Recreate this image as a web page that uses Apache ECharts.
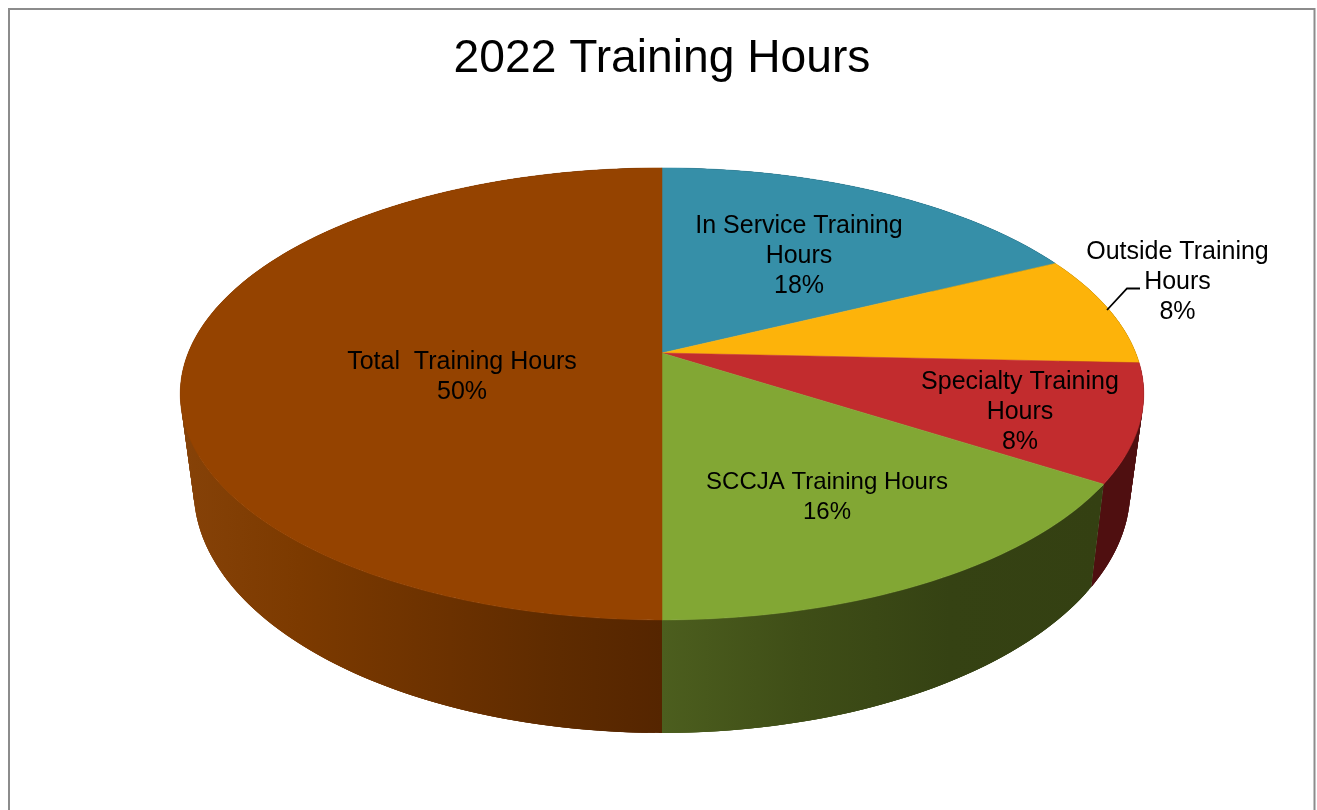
<!DOCTYPE html>
<html>
<head>
<meta charset="utf-8">
<style>html,body{margin:0;padding:0;background:#fff}#c{width:1317px;height:810px}</style>
<script src="https://cdn.jsdelivr.net/npm/echarts@6/dist/echarts.min.js"></script>
</head>
<body>
<div id="c"></div>
<script>
const titleText = '2022 Training Hours';
const categories = ['In Service Training Hours', 'Outside Training Hours', 'Specialty Training Hours', 'SCCJA Training Hours', 'Total  Training Hours'];
const shares = [17.7, 8.0, 8.4, 15.9, 50];

// Presentation only, kept apart from the data
const labelLines = [['In Service Training', 'Hours'], ['Outside Training', 'Hours'], ['Specialty Training', 'Hours'], ['SCCJA Training Hours'], ['Total  Training Hours']];
const labelAt = [[799, 256], [1177.5, 282], [1020, 412], [827, 497], [462, 377]];
const labelSize = [25, 25, 25, 24, 25];
const topColors = ['#368fa8', '#fdb30a', '#c22c2e', '#82a734', '#954300'];
const sideStops = [
  [[0, '#1d4c5a'], [2000, '#1d4c5a']],
  [[0, '#7f5f05'], [2000, '#7f5f05']],
  [[0, '#4f0f10'], [2000, '#4f0f10']],
  [[662, '#4c5e1e'], [800, '#3f4e17'], [950, '#354213'], [1100, '#344012']],
  [[180, '#864208'], [300, '#7c3a00'], [450, '#6b3100'], [560, '#5e2b00'], [662, '#552500']]
];
const FONT = '"Liberation Sans", Arial, sans-serif';

// Projection of the round pie onto the page
const CX = 662, AY = 353, A = 473.8, B = 218.6, K = 0.181;
function topPoint(frac) {
  const a = frac * 2 * Math.PI, u = Math.sin(a), v = -Math.cos(a), w = 1 - K * v;
  return [CX + A * u / w, AY + B * v / w];
}
function basePoint(p) {
  return [CX + (p[0] - CX) * 0.972, p[1] + 103 + (p[1] - 487) * 0.075];
}
const total = shares.reduce((s, v) => s + v, 0);
const starts = shares.map((_, i) => shares.slice(0, i).reduce((s, v) => s + v, 0) / total);
function arc(i) {
  const n = Math.max(8, Math.round(shares[i] * 5)), f0 = starts[i], f1 = f0 + shares[i] / total, pts = [];
  for (let j = 0; j <= n; j++) pts.push(topPoint(f0 + (f1 - f0) * j / n));
  return pts;
}
function sideFill(i) {
  const st = sideStops[i], x0 = st[0][0], x1 = st[st.length - 1][0];
  return new echarts.graphic.LinearGradient(x0, 0, x1, 0,
    st.map(s => ({ offset: (s[0] - x0) / (x1 - x0), color: s[1] })), true);
}
function renderSide(params, api) {
  const i = api.value(0), pts = arc(i), children = [], fill = sideFill(i);
  // overlapping strips, so that no seam shows between neighbours
  for (let j = 0; j < pts.length - 1; j++) {
    const p = pts[j], q = pts[Math.min(j + 3, pts.length - 1)];
    children.push({
      type: 'polygon', silent: true,
      shape: { points: [p, q, basePoint(q), basePoint(p)] },
      style: { fill }
    });
  }
  return { type: 'group', children };
}
function renderTop(params, api) {
  const i = api.value(0);
  const points = [[CX, AY]].concat(arc(i));
  return {
    type: 'polygon', silent: true,
    shape: { points },
    style: { fill: topColors[i], stroke: topColors[i], lineWidth: 0.5 }
  };
}
function renderLabel(params, api) {
  const i = api.value(0);
  const text = labelLines[i].concat([Math.round(api.value(1) / total * 100) + '%']).join('\n');
  const children = [{
    type: 'text', silent: true,
    style: {
      x: labelAt[i][0], y: labelAt[i][1], text,
      font: labelSize[i] + 'px ' + FONT, fill: '#000', align: 'center', verticalAlign: 'middle', lineHeight: 30.2
    }
  }];
  if (i === 1) {
    children.push({
      type: 'polyline', silent: true,
      shape: { points: [[1107, 310], [1127, 288.5], [1140, 288.5]] },
      style: { stroke: '#000', lineWidth: 1.8, fill: null }
    });
  }
  return { type: 'group', children };
}
const rows = shares.map((v, i) => [i, v]);
const chart = echarts.init(document.getElementById('c'), null, { renderer: 'canvas' });
chart.setOption({
  animation: false,
  backgroundColor: '#fff',
  title: {
    text: titleText, left: 657, top: 31, textAlign: 'center',
    textStyle: { fontFamily: FONT, fontSize: 46.2, fontWeight: 'normal', color: '#000' }
  },
  tooltip: { show: false },
  graphic: [{
    type: 'rect', silent: true,
    shape: { x: 9, y: 9, width: 1305.5, height: 900 },
    style: { fill: null, stroke: '#8c8c8c', lineWidth: 2 }
  }],
  series: [
    { type: 'custom', coordinateSystem: 'none', renderItem: renderSide, data: rows, silent: true, z: 2 },
    { type: 'custom', coordinateSystem: 'none', renderItem: renderTop, data: rows, silent: true, z: 3 },
    { type: 'custom', coordinateSystem: 'none', renderItem: renderLabel, data: rows, silent: true, z: 4 }
  ]
});
</script>
</body>
</html>
